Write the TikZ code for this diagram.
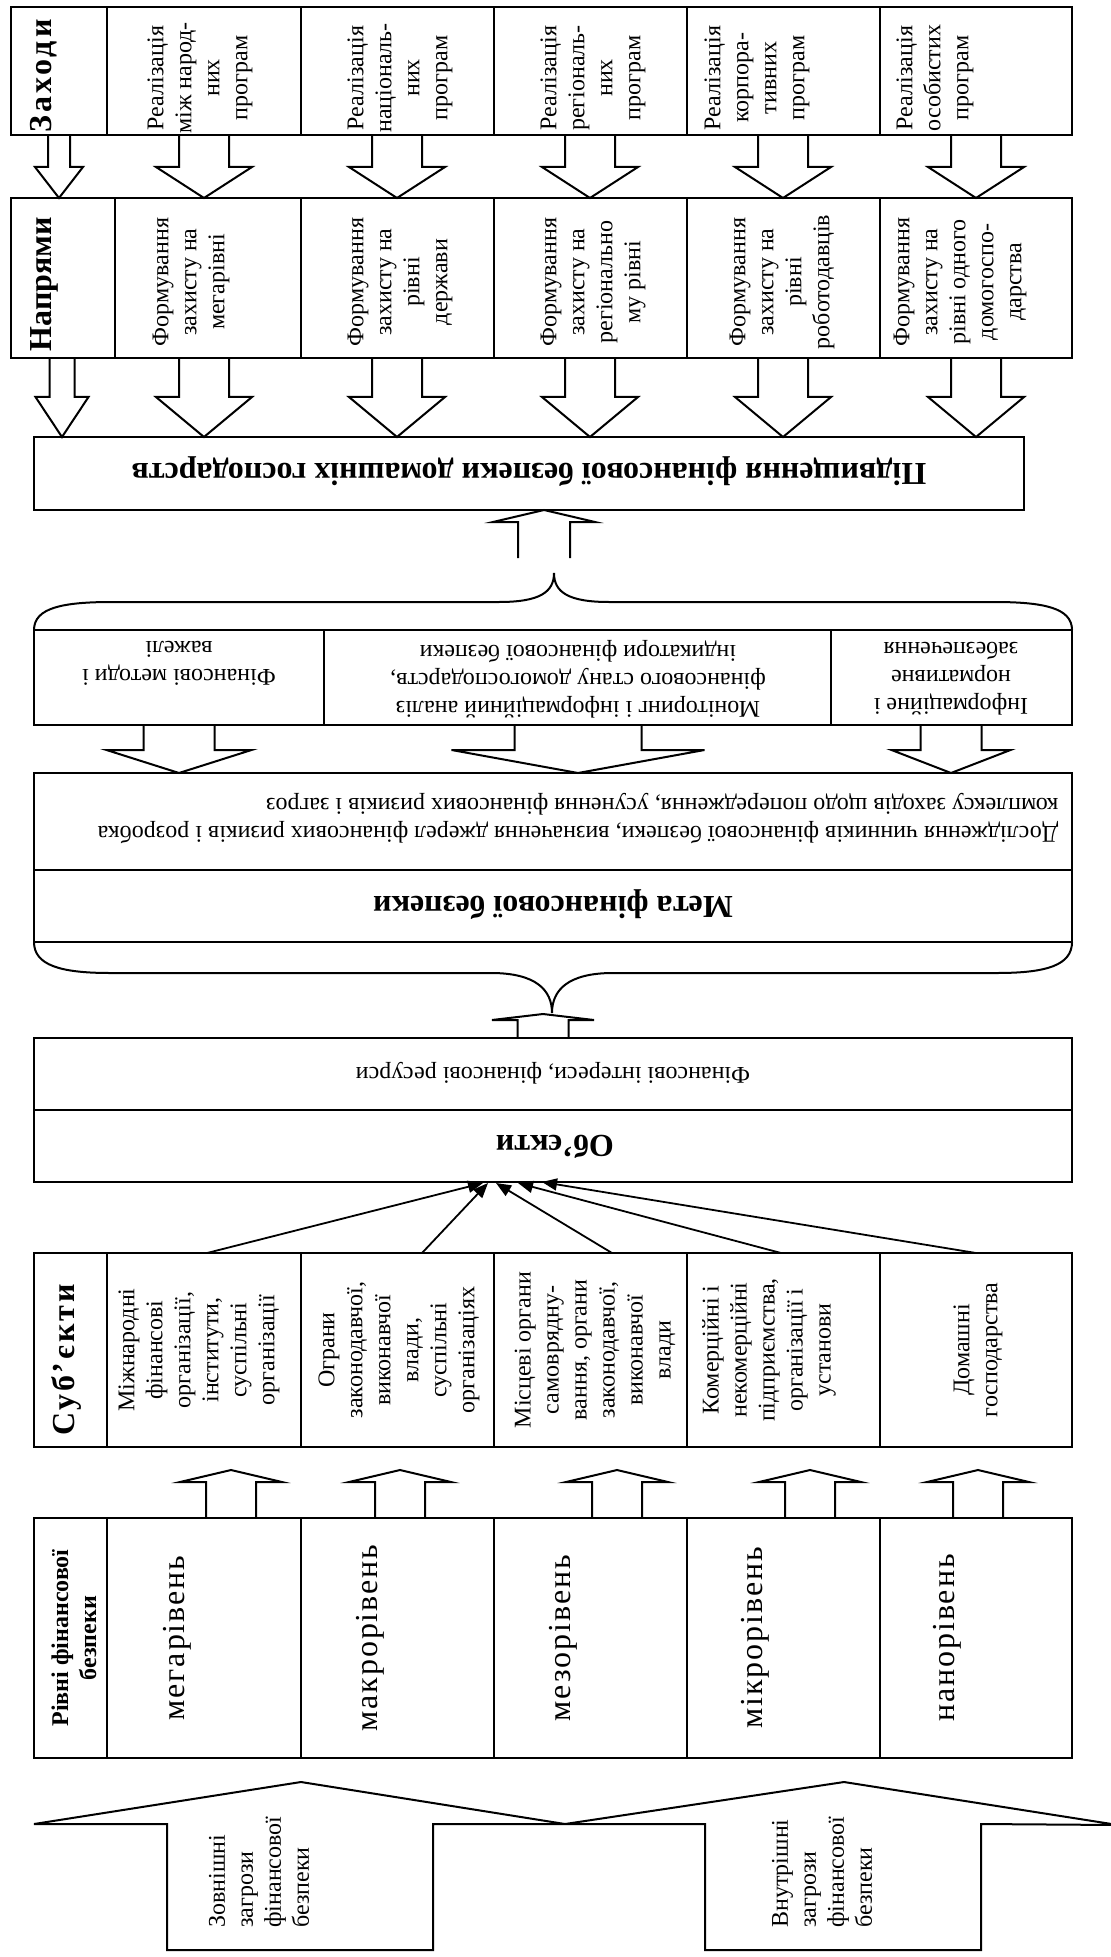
\documentclass[tikz,border=0pt]{standalone}
\usepackage{fontspec}
\setmainfont{Liberation Serif}
\newfontfamily\wideheadfont[LetterSpace=10]{Liberation Serif}
\newfontfamily\midheadfont[LetterSpace=9]{Liberation Serif}
\newfontfamily\levelfont[LetterSpace=6]{Liberation Serif}
\usetikzlibrary{arrows.meta}

\tikzset{
  frame/.style={line width=1pt},
  divider/.style={line width=0.7pt},
  blk/.style={line width=1pt, line join=miter},
  vtxt/.style={rotate=90, align=center, inner sep=0pt, font=\fontsize{12}{14}\selectfont},
  vhead/.style={rotate=90, align=center, inner sep=0pt, font=\fontsize{16}{18}\selectfont\bfseries},
  vsmallhead/.style={rotate=90, align=center, inner sep=0pt, font=\fontsize{12}{14}\selectfont\bfseries},
  lvl/.style={rotate=90, inner sep=0pt, font=\levelfont\fontsize{16}{18}\selectfont},
  utxt/.style={rotate=180, align=center, inner sep=0pt, font=\fontsize{12}{14}\selectfont},
  uhead/.style={rotate=180, align=center, inner sep=0pt, font=\fontsize{16}{18}\selectfont\bfseries},
  link/.style={line width=0.9pt, -{Triangle[length=7.5pt,width=6pt]}},
}

% block arrow: centre x, start y, head base y, tip y, shaft half width, head half width
\newcommand{\blockarrow}[6]{%
  \draw[blk] ({#1-#5},#2) -- ({#1-#5},#3) -- ({#1-#6},#3) -- (#1,#4)
    -- ({#1+#6},#3) -- ({#1+#5},#3) -- ({#1+#5},#2);}

\begin{document}
\begin{tikzpicture}[x=0.5pt,y=-0.5pt]
\useasboundingbox (0,0) rectangle (1111,1957);

% ---------- measures (Заходи) ----------
\draw[frame] (11,7) rectangle (1072,135);
\foreach \xx in {107,301,494,687,880} \draw[divider] (\xx,7) -- (\xx,135);
\node[vhead, font=\wideheadfont\fontsize{16}{18}\selectfont\bfseries] (zakhody) at (44,76) {Заходи};
\node[vtxt] (r1) at (200,78) {Реалізація\\між народ-\\них\\програм};
\node[vtxt] (r2) at (400,78) {Реалізація\\національ-\\них\\програм};
\node[vtxt] (r3) at (593,78) {Реалізація\\регіональ-\\них\\програм};
\node[vtxt] (r4) at (757,78) {Реалізація\\корпора-\\тивних\\програм};
\node[vtxt] (r5) at (935,78) {Реалізація\\особистих\\програм};

\blockarrow{59}{135}{167}{198}{11}{24}
\foreach \cx in {204,397,590,783,976} {\blockarrow{\cx}{135}{167}{198}{25}{48}}

% ---------- directions (Напрями) ----------
\draw[frame] (11,198) rectangle (1072,358);
\foreach \xx in {115,301,494,687,880} \draw[divider] (\xx,198) -- (\xx,358);
\node[vhead] (napriamy) at (44,284) {Напрями};
\node[vtxt] (n1) at (191,282) {Формування\\захисту на\\мегарівні};
\node[vtxt] (n2) at (400,282) {Формування\\захисту на\\рівні\\держави};
\node[vtxt] (n3) at (593,282) {Формування\\захисту на\\регіонально\\му рівні};
\node[vtxt] (n4) at (782,282) {Формування\\захисту на\\рівні\\роботодавців};
\node[vtxt] (n5) at (960,282) {Формування\\захисту на\\рівні одного\\домогоспо-\\дарства};

\blockarrow{62}{358}{397}{437}{12.5}{26.5}
\foreach \cx in {204,397,590,783,976} {\blockarrow{\cx}{358}{397}{437}{25}{48}}

% ---------- overall aim ----------
\draw[frame] (34,437) rectangle (1024,510);
\node[uhead] (aim) at (529,472) {Підвищення фінансової безпеки домашніх господарств};

\blockarrow{544}{558}{522}{510}{26}{51}

% upper brace
\draw[frame] (34,630) .. controls (34,608) and (62,602) .. (112,602) -- (499,602)
  .. controls (540,602) and (554,592) .. (554,573)
  .. controls (554,592) and (568,602) .. (609,602) -- (994,602)
  .. controls (1044,602) and (1072,608) .. (1072,630);

% ---------- tools ----------
\draw[frame] (34,630) rectangle (1072,725);
\foreach \xx in {324,831} \draw[divider] (\xx,630) -- (\xx,725);
\node[utxt] (t1) at (179,663) {Фінансові методи і\\важелі};
\node[utxt] (t2) at (578,679) {Моніторинг і інформаційний аналіз\\фінансового стану  домогосподарств,\\індикатори фінансової безпеки};
\node[utxt] (t3) at (951,679) {Інформаційне і\\нормативне\\забезпечення};

\blockarrow{179}{725}{750}{773}{35.5}{72.5}
\blockarrow{578}{725}{750}{773}{63.5}{126.5}
\blockarrow{951}{725}{750}{773}{30.5}{59.5}

% ---------- goal ----------
\draw[frame] (34,773) rectangle (1072,942);
\draw[frame] (34,870) -- (1072,870);
\node[utxt, align=left] (goaltext) at (578,818) {Дослідження чинників фінансової безпеки, визначення джерел фінансових ризиків і розробка\\комплексу заходів щодо попередження, усунення фінансових ризиків і загроз};
\node[uhead] (goal) at (553,905) {Мета фінансової безпеки};

% lower brace
\draw[frame] (34,942) .. controls (34,965) and (60,973) .. (110,973) -- (491,973)
  .. controls (536,973) and (552,990) .. (552,1013)
  .. controls (552,990) and (568,973) .. (613,973) -- (997,973)
  .. controls (1047,973) and (1072,965) .. (1072,942);

\blockarrow{543}{1038}{1020}{1014}{25.5}{51}

% ---------- objects ----------
\draw[frame] (34,1038) rectangle (1072,1182);
\draw[frame] (34,1110) -- (1072,1110);
\node[utxt] (objtext) at (553,1073) {Фінансові інтереси, фінансові ресурси};
\node[uhead] (objects) at (555,1147) {Об’єкти};

% links from subjects to objects
\coordinate (ls1) at (207,1253);
\coordinate (ls2) at (422,1253);
\coordinate (ls3) at (612,1253);
\coordinate (ls4) at (781,1253);
\coordinate (ls5) at (976,1253);
\coordinate (lt1) at (483,1183);
\coordinate (lt2) at (488,1183);
\coordinate (lt3) at (496,1183);
\coordinate (lt4) at (518,1183);
\coordinate (lt5) at (542,1182);
\foreach \i in {1,...,5} \draw[link] (ls\i) -- (lt\i);

% ---------- subjects ----------
\draw[frame] (34,1253) rectangle (1072,1447);
\foreach \xx in {107,301,494,687,880} \draw[divider] (\xx,1253) -- (\xx,1447);
\node[vhead, font=\midheadfont\fontsize{16}{18}\selectfont\bfseries] (subjects) at (66,1360) {Суб’єкти};
\node[vtxt] (s1) at (199,1350) {Міжнародні\\фінансові\\організації,\\інститути,\\суспільні\\організації};
\node[vtxt] (s2) at (399,1350) {Ограни\\законодавчої,\\виконавчої\\влади,\\суспільні\\організаціях};
\node[vtxt] (s3) at (595,1350) {Місцеві органи\\самоврядну-\\вання, органи\\законодавчої,\\виконавчої\\влади};
\node[vtxt] (s4) at (769,1350) {Комерційні і\\некомерційні\\підприємства,\\організації і\\установи};
\node[vtxt] (s5) at (978,1350) {Домашні\\господарства};

\foreach \cx in {231,400,617,810,978} {\blockarrow{\cx}{1518}{1482}{1470}{25}{51}}

% ---------- levels ----------
\draw[frame] (34,1518) rectangle (1072,1758);
\foreach \xx in {107,301,494,687,880} \draw[divider] (\xx,1518) -- (\xx,1758);
\node[vsmallhead] (levels) at (74,1638) {Рівні фінансової\\безпеки};
\node[lvl] (l1) at (177,1638) {мегарівень};
\node[lvl] (l2) at (370,1638) {макрорівень};
\node[lvl] (l3) at (563,1638) {мезорівень};
\node[lvl] (l4) at (755,1638) {мікрорівень};
\node[lvl] (l5) at (947,1638) {нанорівень};

% ---------- threats ----------
\draw[blk] (167,1950) -- (167,1824) -- (34,1824) -- (301,1782) -- (565,1824)
  -- (844,1782) -- (1118,1825) -- (981,1824) -- (981,1950) -- (705,1950)
  -- (705,1824) -- (433,1824) -- (433,1950) -- cycle;
\node[vtxt, align=left, anchor=west] (ext) at (259,1928) {Зовнішні\\загрози\\фінансової\\безпеки};
\node[vtxt, align=left, anchor=west] (int) at (822,1928) {Внутрішні\\загрози\\фінансової\\безпеки};
\end{tikzpicture}
\end{document}
